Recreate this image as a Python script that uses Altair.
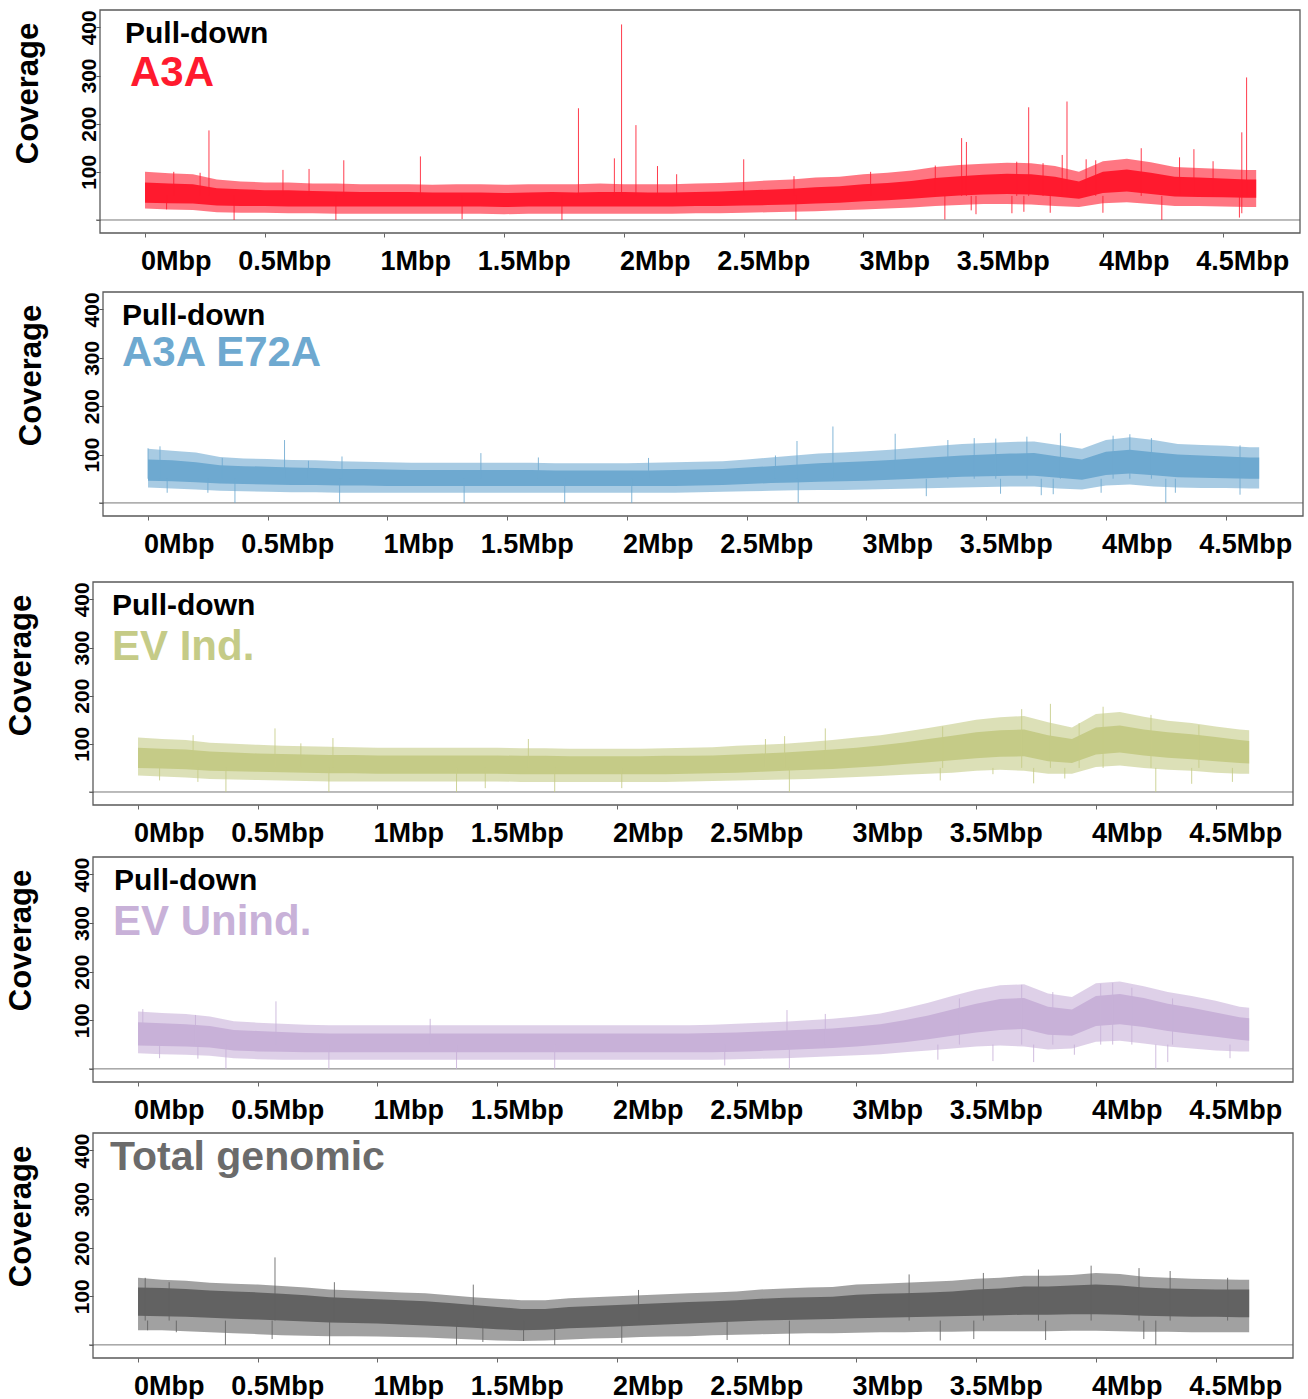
import altair as alt
import pandas as pd

# ---------------- data ----------------
POS = [0.0, 0.1, 0.2, 0.3, 0.4, 0.5, 0.6, 0.7, 0.8, 0.9,
       1.0, 1.1, 1.2, 1.3, 1.4, 1.5, 1.6, 1.7, 1.8, 1.9,
       2.0, 2.1, 2.2, 2.3, 2.4, 2.5, 2.6, 2.7, 2.8, 2.9,
       3.0, 3.1, 3.2, 3.3, 3.4, 3.5, 3.6, 3.7, 3.8, 3.9,
       4.0, 4.1, 4.2, 4.3, 4.4, 4.5, 4.6, 4.64]

# A3A (red)
A3A_CORE_HI = [78, 76, 74, 66, 64, 62, 62, 60, 59, 58, 58, 58, 57, 57, 57, 56, 57, 58, 57, 58,
               58, 57, 57, 58, 59, 61, 63, 65, 68, 70, 74, 77, 81, 87, 91, 94, 96, 95, 90, 80,
               100, 105, 98, 90, 88, 86, 84, 84]
A3A_CORE_LO = [36, 35, 34, 30, 29, 29, 28, 28, 28, 28, 28, 28, 28, 28, 28, 27, 28, 28, 28, 28,
               28, 28, 28, 29, 29, 30, 31, 32, 34, 36, 39, 41, 44, 48, 51, 53, 54, 53, 49, 44,
               56, 59, 54, 49, 48, 47, 46, 46]
A3A_OUT_HI = [100, 97, 95, 84, 80, 78, 78, 76, 76, 74, 74, 74, 73, 74, 74, 73, 74, 74, 74, 76,
              74, 74, 74, 76, 77, 79, 82, 84, 88, 90, 95, 98, 103, 110, 114, 117, 119, 118, 112, 100,
              122, 127, 120, 110, 108, 106, 104, 104]
A3A_OUT_LO = [24, 22, 21, 16, 15, 15, 14, 14, 13, 13, 13, 13, 13, 13, 13, 12, 13, 13, 13, 13,
              13, 13, 13, 14, 14, 15, 16, 17, 18, 20, 22, 24, 26, 29, 31, 33, 33, 32, 29, 27,
              35, 37, 33, 29, 29, 28, 27, 27]
A3A_SPIKE_POS = [0.12, 0.23, 0.267, 0.576, 0.685, 0.83, 1.15, 1.81, 1.96, 1.99, 2.05, 2.14, 2.22, 2.50,
                 2.71, 3.03, 3.30, 3.41, 3.43, 3.64, 3.69, 3.75, 3.83, 3.85, 3.93, 3.97, 4.16, 4.32,
                 4.38, 4.46, 4.58, 4.60]
A3A_SPIKE_TOP = [100, 98, 186, 104, 106, 124, 132, 232, 128, 406, 197, 112, 95, 126,
                 91, 100, 113, 170, 162, 121, 234, 118, 135, 246, 126, 124, 149, 130,
                 147, 122, 182, 296]
A3A_DIP_POS = [0.09, 0.372, 0.797, 1.324, 1.741, 2.718, 3.34, 3.45, 3.47, 3.62, 3.67, 3.78, 4.0,
               4.246, 4.57, 4.58]
A3A_DIP_BOT = [22, 0, 0, 2, 0, 0, 1, 20, 12, 14, 17, 15, 15, 0, 5, 14]

# A3A E72A (blue)
E72A_CORE_HI = [90, 88, 84, 78, 76, 75, 73, 72, 70, 70, 69, 68, 68, 68, 68, 68, 68, 67, 67, 67,
                67, 67, 68, 69, 70, 73, 76, 79, 82, 84, 86, 89, 92, 95, 98, 100, 102, 103, 96, 90,
                106, 110, 105, 100, 98, 96, 94, 94]
E72A_CORE_LO = [46, 45, 43, 40, 39, 38, 37, 37, 36, 36, 35, 35, 35, 35, 35, 35, 35, 35, 35, 35,
                35, 35, 35, 36, 37, 39, 41, 42, 44, 45, 46, 48, 50, 52, 54, 55, 56, 56, 52, 48,
                58, 61, 57, 53, 52, 51, 50, 50]
E72A_OUT_HI = [112, 108, 104, 95, 92, 91, 89, 88, 86, 85, 84, 83, 83, 83, 83, 83, 83, 82, 82, 82,
               82, 83, 84, 85, 86, 90, 94, 98, 102, 104, 107, 110, 114, 118, 122, 124, 126, 127, 120, 112,
               130, 136, 130, 122, 120, 118, 115, 115]
E72A_OUT_LO = [32, 30, 28, 25, 24, 23, 22, 22, 21, 21, 21, 21, 21, 21, 21, 21, 21, 21, 21, 21,
               21, 21, 21, 22, 23, 24, 25, 26, 27, 27, 28, 29, 30, 31, 32, 33, 34, 34, 30, 28,
               36, 38, 34, 32, 31, 31, 30, 30]
E72A_SPIKE_POS = [0.0, 0.05, 0.31, 0.57, 0.67, 0.81, 1.39, 1.63, 2.09, 2.62, 2.71, 2.86, 3.12,
                  3.34, 3.45, 3.54, 3.67, 3.81, 4.03, 4.10, 4.19, 4.56]
E72A_SPIKE_TOP = [113, 117, 93, 130, 87, 96, 103, 94, 93, 98, 128, 158, 143,
                  130, 134, 133, 137, 144, 139, 142, 134, 119]
E72A_DIP_POS = [0.08, 0.25, 0.363, 0.80, 1.32, 1.74, 2.02, 2.715, 3.25, 3.56, 3.73, 3.78, 3.98,
                4.25, 4.29, 4.56]
E72A_DIP_BOT = [21, 21, 0, 0, 0, 0, 0, 0, 14, 19, 16, 18, 21, 0, 21, 17]

# EV Ind. (green)
EVI_CORE_HI = [92, 90, 88, 84, 82, 80, 79, 78, 77, 77, 76, 76, 76, 76, 76, 76, 75, 75, 74, 74,
               74, 74, 75, 75, 76, 78, 80, 82, 85, 88, 92, 97, 103, 110, 117, 124, 128, 130, 118, 110,
               134, 138, 130, 124, 120, 114, 108, 106]
EVI_CORE_LO = [50, 49, 47, 44, 43, 42, 41, 40, 39, 39, 38, 38, 38, 38, 38, 38, 37, 37, 37, 37,
               37, 37, 37, 38, 39, 40, 42, 44, 46, 48, 51, 54, 58, 62, 66, 70, 73, 74, 64, 60,
               78, 82, 76, 71, 68, 64, 60, 59]
EVI_OUT_HI = [113, 110, 108, 102, 100, 98, 96, 95, 94, 93, 92, 92, 92, 92, 92, 92, 91, 91, 90, 90,
              90, 90, 91, 92, 93, 96, 98, 100, 104, 108, 113, 118, 125, 133, 141, 150, 155, 158, 145, 134,
              162, 166, 156, 148, 143, 136, 130, 128]
EVI_OUT_LO = [34, 32, 30, 27, 26, 25, 24, 23, 22, 22, 22, 22, 22, 22, 22, 22, 21, 21, 21, 21,
              21, 21, 21, 22, 23, 24, 25, 26, 27, 29, 31, 33, 36, 38, 40, 44, 46, 44, 38, 38,
              52, 55, 50, 46, 44, 40, 38, 38]
EVI_SPIKE_POS = [0.23, 0.572, 0.68, 0.814, 1.63, 2.62, 2.70, 2.87, 3.36, 3.69, 3.81, 3.93, 4.03,
                 4.23, 4.43]
EVI_SPIKE_TOP = [118, 132, 101, 112, 110, 110, 116, 132, 136, 172, 183, 143, 177, 160, 139]
EVI_DIP_POS = [0.09, 0.25, 0.367, 0.797, 1.33, 1.45, 1.74, 2.02, 2.72, 3.35, 3.57, 3.74, 3.87,
               4.25, 4.40, 4.57]
EVI_DIP_BOT = [24, 21, 0, 0, 0, 8, 0, 8, 0, 24, 37, 18, 28, 0, 17, 21]

# EV Unind. (purple)
EVU_CORE_HI = [96, 94, 92, 88, 80, 78, 76, 74, 73, 73, 73, 73, 73, 73, 73, 73, 73, 73, 73, 73,
               73, 73, 73, 73, 74, 75, 77, 79, 81, 83, 87, 92, 100, 110, 122, 134, 144, 146, 128, 122,
               150, 154, 146, 134, 126, 116, 106, 104]
EVU_CORE_LO = [48, 47, 46, 44, 38, 36, 35, 34, 34, 34, 34, 34, 34, 34, 34, 34, 34, 34, 34, 34,
               34, 34, 34, 34, 34, 35, 37, 39, 41, 43, 46, 50, 55, 61, 68, 75, 80, 82, 70, 68,
               88, 92, 86, 78, 72, 66, 60, 58]
EVU_OUT_HI = [118, 115, 113, 108, 98, 95, 93, 91, 90, 90, 90, 90, 90, 90, 90, 90, 90, 90, 90, 90,
              90, 90, 90, 90, 91, 93, 95, 97, 100, 103, 108, 114, 124, 136, 150, 163, 172, 174, 155, 148,
              176, 180, 170, 158, 150, 140, 128, 126]
EVU_OUT_LO = [32, 30, 29, 27, 22, 20, 19, 19, 19, 19, 19, 19, 19, 19, 19, 19, 19, 19, 19, 19,
              19, 19, 19, 19, 19, 20, 21, 22, 24, 26, 28, 30, 34, 38, 42, 46, 48, 46, 40, 42,
              56, 58, 52, 46, 42, 38, 36, 36]
EVU_SPIKE_POS = [0.02, 0.24, 0.576, 1.22, 2.71, 2.87, 3.43, 3.69, 3.82, 4.02, 4.07, 4.15, 4.32]
EVU_SPIKE_TOP = [123, 111, 139, 103, 121, 113, 145, 173, 158, 175, 177, 167, 145]
EVU_DIP_POS = [0.09, 0.25, 0.367, 0.797, 1.33, 1.74, 2.45, 2.72, 3.34, 3.57, 3.74, 3.91, 4.25,
               4.30, 4.56]
EVU_DIP_BOT = [22, 21, 0, 0, 0, 0, 7, 0, 19, 16, 14, 29, 0, 14, 22]

# Total genomic (grey)
TOT_CORE_HI = [118, 117, 115, 112, 110, 108, 105, 102, 98, 96, 94, 92, 90, 86, 82, 78, 74, 74, 78, 80,
               82, 84, 86, 88, 90, 92, 95, 97, 98, 99, 103, 105, 106, 108, 110, 114, 116, 120, 120, 122,
               124, 122, 118, 116, 115, 114, 114, 114]
TOT_CORE_LO = [60, 59, 58, 56, 54, 52, 50, 48, 46, 45, 44, 42, 40, 38, 35, 32, 30, 31, 34, 36,
               38, 40, 42, 44, 46, 48, 50, 51, 52, 53, 55, 56, 57, 58, 59, 60, 61, 62, 62, 63,
               63, 62, 60, 59, 58, 58, 57, 57]
TOT_OUT_HI = [138, 134, 132, 128, 126, 124, 121, 118, 114, 112, 110, 108, 106, 102, 98, 95, 92, 92, 96, 98,
              100, 102, 104, 106, 108, 110, 114, 116, 118, 119, 124, 126, 128, 130, 132, 136, 138, 142, 142, 144,
              148, 146, 140, 138, 136, 135, 134, 134]
TOT_OUT_LO = [30, 30, 28, 26, 24, 22, 20, 19, 18, 18, 17, 16, 15, 13, 11, 9, 8, 9, 11, 13,
              14, 16, 17, 18, 20, 21, 22, 23, 24, 24, 25, 26, 26, 27, 27, 28, 28, 28, 28, 29,
              29, 28, 27, 27, 26, 26, 26, 26]
TOT_SPIKE_POS = [0.03, 0.13, 0.572, 0.82, 1.40, 2.09, 3.22, 3.53, 3.76, 3.98, 4.18, 4.31, 4.55]
TOT_SPIKE_TOP = [138, 129, 180, 129, 124, 113, 145, 148, 155, 163, 158, 152, 138]
TOT_DIP_POS = [0.04, 0.16, 0.365, 0.56, 0.80, 1.33, 1.44, 1.61, 1.74, 2.02, 2.46, 2.72, 3.35, 3.49,
               3.79, 4.20, 4.25]
TOT_DIP_BOT = [30, 26, 0, 12, 0, 0, 6, 8, 0, 4, 10, 0, 9, 12, 10, 12, 0]

PULL_LABEL = "Pull-down"
PANEL_TITLES = ["A3A", "A3A E72A", "EV Ind.", "EV Unind.", "Total genomic"]
PANEL_HAS_PULL = [True, True, True, True, False]
PANEL_COLORS = ["#FF1A2E", "#6EA9D0", "#C5CB87", "#C8B1D8", "#626262"]
TITLE_COLORS = ["#FF1A2E", "#6EA9D0", "#C5CB87", "#C8B1D8", "#6B6B6B"]

X_TICK_VALUES = [0, 0.5, 1, 1.5, 2, 2.5, 3, 3.5, 4, 4.5]
X_TICK_LABELS = ["0Mbp", "0.5Mbp", "1Mbp", "1.5Mbp", "2Mbp", "2.5Mbp", "3Mbp", "3.5Mbp", "4Mbp", "4.5Mbp"]
Y_TICK_VALUES = [0, 100, 200, 300, 400]
Y_TITLE = "Coverage"

SERIES = [
    (A3A_CORE_LO, A3A_CORE_HI, A3A_OUT_LO, A3A_OUT_HI, A3A_SPIKE_POS, A3A_SPIKE_TOP, A3A_DIP_POS, A3A_DIP_BOT),
    (E72A_CORE_LO, E72A_CORE_HI, E72A_OUT_LO, E72A_OUT_HI, E72A_SPIKE_POS, E72A_SPIKE_TOP, E72A_DIP_POS, E72A_DIP_BOT),
    (EVI_CORE_LO, EVI_CORE_HI, EVI_OUT_LO, EVI_OUT_HI, EVI_SPIKE_POS, EVI_SPIKE_TOP, EVI_DIP_POS, EVI_DIP_BOT),
    (EVU_CORE_LO, EVU_CORE_HI, EVU_OUT_LO, EVU_OUT_HI, EVU_SPIKE_POS, EVU_SPIKE_TOP, EVU_DIP_POS, EVU_DIP_BOT),
    (TOT_CORE_LO, TOT_CORE_HI, TOT_OUT_LO, TOT_OUT_HI, TOT_SPIKE_POS, TOT_SPIKE_TOP, TOT_DIP_POS, TOT_DIP_BOT),
]

# ---------------- layout / style ----------------
FONT = "Liberation Sans"
FRAME_W = 1200
PLOT_W = 1210
FRAME_OFF = [7, 10, 0, 0, 0]
HEIGHTS = [223, 224, 223, 225, 225]
X_FRAME_DOMAIN = [-0.188, 4.823]
Y_DOMAIN = [-27, 436]
SPIKE_BASE = 50
PULL_POS = [(25, 33), (19, 33), (19, 33), (21, 33), None]
TITLE_POS = [(30, 76), (19, 74), (19, 78), (20, 78), (17, 37)]
TITLE_SIZE = [42, 42, 42, 42, 41]

label_expr = "[" + ",".join("'%s'" % s for s in X_TICK_LABELS) + "][round(datum.value*2)]"


def make_panel(i):
    f = FRAME_OFF[i]
    H = HEIGHTS[i]
    color = PANEL_COLORS[i]
    k = FRAME_W / (X_FRAME_DOMAIN[1] - X_FRAME_DOMAIN[0])
    dom = [X_FRAME_DOMAIN[0] - f / k, X_FRAME_DOMAIN[0] + (PLOT_W - f) / k]
    xs = alt.Scale(domain=dom, nice=False, zero=False)
    ys = alt.Scale(domain=Y_DOMAIN, nice=False, zero=False)
    core_lo, core_hi, out_lo, out_hi, sp_pos, sp_top, dp_pos, dp_bot = SERIES[i]

    band = pd.DataFrame({"pos": POS, "core_lo": core_lo, "core_hi": core_hi,
                         "out_lo": out_lo, "out_hi": out_hi})
    spikes = pd.DataFrame({"pos": sp_pos, "top": sp_top})
    dips = pd.DataFrame({"pos": dp_pos, "bot": dp_bot})
    zero_df = pd.DataFrame({"zero": [0]})
    one = pd.DataFrame({"k": [0]})

    x_axis = alt.Axis(values=X_TICK_VALUES, labelExpr=label_expr, labelAlign="right", labelOffset=66,
                      labelBaseline="alphabetic", labelPadding=32, labelFontSize=27,
                      labelFontWeight="bold", labelFont=FONT, labelColor="black",
                      tickSize=4, tickColor="#666666", tickWidth=1, domain=False, grid=False,
                      title=None, labelOverlap=False, labelFlush=False)
    y_axis = alt.Axis(values=Y_TICK_VALUES, labelExpr="datum.value == 0 ? '' : datum.label",
                      labelAngle=270, labelAlign="center", labelBaseline="alphabetic", labelPadding=1,
                      labelFontSize=21, labelFontWeight="bold", labelFont=FONT, labelColor="black",
                      tickSize=4, tickColor="#555555", tickWidth=1, domain=False, grid=False,
                      title=Y_TITLE, titleFontSize=31, titleFontWeight="bold", titleFont=FONT,
                      titleColor="black", titleAngle=270, titleX=-63, titleY=83, titleAlign="center",
                      titleBaseline="alphabetic", offset=-f, labelOverlap=False)

    X = alt.X("pos:Q", scale=xs, axis=x_axis)

    outer = alt.Chart(band).mark_area(color=color, opacity=0.6).encode(
        x=X, y=alt.Y("out_lo:Q", scale=ys, axis=y_axis), y2="out_hi:Q")
    core = alt.Chart(band).mark_area(color=color, opacity=1).encode(
        x=X, y=alt.Y("core_lo:Q", scale=ys, axis=y_axis), y2="core_hi:Q")
    spk = alt.Chart(spikes).mark_rule(color=color, strokeWidth=1, opacity=0.85).encode(
        x=X, y=alt.Y("top:Q", scale=ys, axis=y_axis), y2=alt.datum(SPIKE_BASE))
    dip = alt.Chart(dips).mark_rule(color=color, strokeWidth=1, opacity=0.85).encode(
        x=X, y=alt.Y("bot:Q", scale=ys, axis=y_axis), y2=alt.datum(SPIKE_BASE))
    zero = alt.Chart(zero_df).mark_rule(color="#777777", strokeWidth=1).encode(
        x=alt.value(f - 4), x2=alt.value(f + FRAME_W), y=alt.Y("zero:Q", scale=ys, axis=y_axis))
    frame = alt.Chart(one).mark_rect(filled=False, stroke="#5a5a5a", strokeWidth=1.3).encode(
        x=alt.value(f), x2=alt.value(f + FRAME_W), y=alt.value(0), y2=alt.value(H))

    layers = [outer, zero, core, spk, dip, frame]
    if PANEL_HAS_PULL[i]:
        px, py = PULL_POS[i]
        layers.append(alt.Chart(one).mark_text(text=PULL_LABEL, font=FONT, fontSize=30, fontWeight="bold",
                                               color="black", align="left", baseline="alphabetic").encode(
            x=alt.value(f + px), y=alt.value(py)))
    tx, ty = TITLE_POS[i]
    layers.append(alt.Chart(one).mark_text(text=PANEL_TITLES[i], font=FONT, fontSize=TITLE_SIZE[i],
                                           fontWeight="bold", color=TITLE_COLORS[i], align="left",
                                           baseline="alphabetic").encode(
        x=alt.value(f + tx), y=alt.value(ty)))
    return alt.layer(*layers).properties(width=PLOT_W, height=H)


p = [make_panel(i) for i in range(5)]
g12 = alt.vconcat(p[0], p[1], spacing=17)
g123 = alt.vconcat(g12, p[2], spacing=24)
g45 = alt.vconcat(p[3], p[4], spacing=9)
chart = alt.vconcat(g123, g45, spacing=10).properties(
    padding={"left": 5, "top": 9, "right": 2, "bottom": 0},
    background="white"
).configure_view(strokeWidth=0)

chart.save("out.html", embed_options={"renderer": "svg", "actions": False})
